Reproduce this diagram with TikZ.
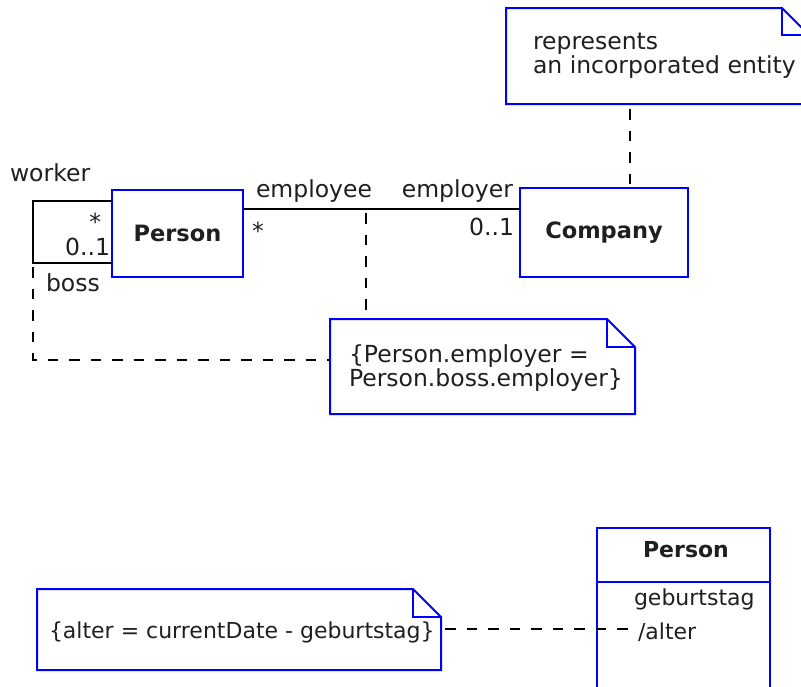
\documentclass[tikz,border=0pt]{standalone}
\usepackage{fontspec}
\setmainfont{DejaVu Sans}
\begin{document}
\begin{tikzpicture}[x=1pt,y=-1pt,
  every node/.style={inner sep=0pt, outer sep=0pt, text=black!88,
    font=\fontsize{23.5}{23.5}\selectfont},
  small/.style={font=\fontsize{22}{24}\selectfont},
  classbox/.style={draw=blue, line width=2pt, font=\fontsize{22.5}{24}\selectfont\bfseries},
  notebox/.style={draw=none, anchor=north west},
  noteline/.style={draw=blue, line width=2pt, line join=miter},
  assoc/.style={draw=black, line width=2pt},
  anchorline/.style={draw=black, line width=1.6pt, dash pattern=on 10.5pt off 11pt, dash phase=-4pt}
]
\useasboundingbox (0,0) rectangle (801,686);
\clip (0,0) rectangle (801,686);

% note frame with a dog-eared top right corner
\newcommand{\umlnotefold}[2]{%
  \draw[noteline] (#1.north west) -- ([xshift=-#2pt]#1.north east)
    -- ([yshift=-#2pt]#1.north east) -- (#1.south east)
    -- (#1.south west) -- cycle;
  \draw[noteline] ([xshift=-#2pt]#1.north east) |- ([yshift=-#2pt]#1.north east);}

% ---------- upper diagram: classes and associations ----------
\node[classbox, minimum width=131pt, minimum height=87pt] (person) at (177.5,233.5) {Person};
\node[classbox, minimum width=168pt, minimum height=89pt] (company) at (604,232.5) {Company};

% reflexive association worker/boss
\coordinate (loopTop) at (33,201);
\coordinate (loopBot) at (33,263);
\draw[assoc] (person.west |- loopTop) -- (loopTop) -- (loopBot) -- (person.west |- loopBot);
\node[anchor=base west] (lworker) at (10,181) {worker};
\node[anchor=base east] (lstarw) at (101,230) {*};
\node[anchor=base east] (lzerob) at (110,255) {0..1};
\node[anchor=base west] (lboss) at (46,291) {boss};

% employee/employer association
\coordinate (assocMid) at (366,209);
\draw[assoc] (person.east |- assocMid) -- (company.west |- assocMid);
\node[anchor=base west] (lemployee) at (256,197) {employee};
\node[anchor=base west] (lstare) at (252,239) {*};
\node[anchor=base east] (lemployer) at (513,197) {employer};
\node[anchor=base east] (lzeroe) at (514,235) {0..1};

% note on Company (base anchor sits on the last line)
\node[notebox, minimum width=303pt, minimum height=96pt] (note1) at (506,8) {};
\umlnotefold{note1}{27}
\node[anchor=base west, align=left] (note1text) at (533,73) {represents\\an incorporated entity};
\draw[anchorline] ([xshift=26pt]company.north) -- ([xshift=26pt]company.north |- note1.south);

% constraint note
\node[notebox, minimum width=305pt, minimum height=95pt] (note2) at (330,319) {};
\umlnotefold{note2}{28}
\node[anchor=base west, align=left] (note2text) at (349,386) {\{Person.employer =\\Person.boss.employer\}};
\draw[anchorline] (assocMid) -- (assocMid |- note2.north);
\coordinate (loopBend) at (33,360);
\draw[anchorline] (loopBot) -- (loopBend) -- (note2.west |- loopBend);

% ---------- lower diagram: derived attribute ----------
\node[classbox, anchor=north west, minimum width=173pt, minimum height=172pt] (cls) at (597,528) {};
\draw[draw=blue, line width=2pt] (cls.west |- 0,582) -- (cls.east |- 0,582);
\node[anchor=base, font=\fontsize{22}{24}\selectfont\bfseries] (clsname) at (686,557) {Person};
\node[small, anchor=base west] (attr1) at (634,605) {geburtstag};
\node[small, anchor=base west] (attr2) at (638,639) {/alter};

\node[notebox, minimum width=404pt, minimum height=81pt] (note3) at (37,589) {};
\umlnotefold{note3}{28}
\node[small, anchor=base west] (note3text) at (49,638) {\{alter = currentDate - geburtstag\}};
\draw[anchorline] (note3.east |- 0,629) -- ([xshift=-8pt]attr2.west |- 0,629);
\end{tikzpicture}
\end{document}
